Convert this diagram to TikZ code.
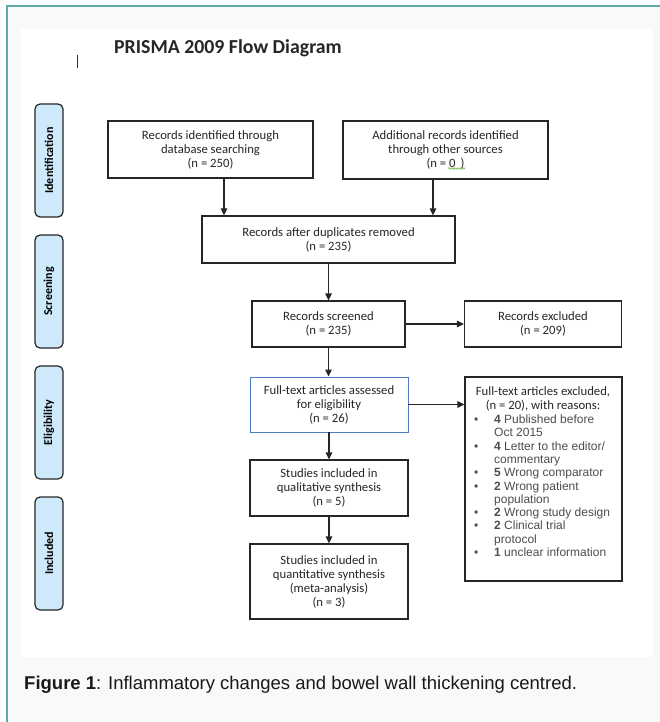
\documentclass[tikz,border=0pt]{standalone}
\usepackage{fontspec}
\setmainfont{Carlito}
\newfontfamily\arialf{Liberation Sans}
\usetikzlibrary{arrows.meta,decorations.pathmorphing}
\definecolor{teal1}{HTML}{5FAAAB}
\definecolor{sidefill}{HTML}{CDE9FA}
\definecolor{bluebord}{HTML}{4F7CC4}
\definecolor{bgout}{HTML}{F8FAFA}
\definecolor{txt}{HTML}{262626}
\definecolor{listtxt}{HTML}{4D4D4D}
\definecolor{squig}{HTML}{5DB030}
\newcommand{\bl}[2]{\makebox[20pt][l]{\textbullet}\textbf{#1} #2}
\newcommand{\cont}[1]{\hspace*{20pt}#1}
\begin{document}
\begin{tikzpicture}[x=1pt,y=-1pt,
 box/.style={draw=black!85,line width=1.2pt,fill=white,align=center,inner sep=0pt,text=txt,font=\fontsize{12.7}{14}\selectfont},
 side/.style={draw=black!85,line width=1.2pt,fill=sidefill,rounded corners=5pt,minimum width=113pt,minimum height=28pt,inner sep=0pt,rotate=90,font=\bfseries\fontsize{12}{12}\selectfont},
 arr/.style={-{Triangle[length=7pt,width=6.5pt]},line width=1.2pt,black!85}]
\useasboundingbox (0,0) rectangle (660,722);
% background
\fill[white] (0,0) rectangle (660,722);
\fill[bgout] (7,6) rectangle (660,722);
\fill[white] (21,29) rectangle (653,657);
\draw[teal1,line width=2pt] (7,722) -- (7,6) -- (660,6);
% title
\node[anchor=west,inner sep=0pt,font=\bfseries\fontsize{19.8}{20}\selectfont,text=txt] (title) at (114,48) {PRISMA 2009 Flow Diagram};
\coordinate (cur1) at (77,55);
\coordinate (cur2) at (77,68);
\draw[black!80,line width=0.9pt] (cur1) -- (cur2);
% side labels
\node[side] (sid) at (49,160.5) {Identification};
\node[side] (sscr) at (49,291.5) {Screening};
\node[side] (selig) at (49,422.5) {Eligibility};
\node[side] (sinc) at (49,553.5) {Included};
% boxes
\node[box,minimum width=205pt,minimum height=57pt] (b1) at (210.5,149.5) {Records identified through\\database searching\\(n = 250)};
\node[box,minimum width=205pt,minimum height=58pt] (b2) at (445.5,150) {Additional records identified\\through other sources\\(n = 0\ \,)};
\node[box,minimum width=253pt,minimum height=47pt] (b3) at (328.5,239.5) {Records after duplicates removed\\(n = 235)};
\node[box,minimum width=153pt,minimum height=46pt] (b4) at (328.5,324) {Records screened\\(n = 235)};
\node[box,minimum width=157pt,minimum height=46pt] (b5) at (543,324) {Records excluded\\(n = 209)};
\node[box,draw=bluebord,line width=0.9pt,minimum width=158pt,minimum height=55pt] (b6) at (329,404.5) {Full-text articles assessed\\for eligibility\\(n = 26)};
\node[box,minimum width=157pt,minimum height=204pt] (b7) at (543.5,479) {};
\node[box,minimum width=158pt,minimum height=56pt] (b8) at (329,488) {Studies included in\\qualitative synthesis\\(n = 5)};
\node[box,minimum width=158pt,minimum height=75pt] (b9) at (329,581.5) {Studies included in\\quantitative synthesis\\(meta-analysis)\\(n = 3)};
% excluded reasons text (base anchor = baseline of last line)
\node[anchor=base,align=center,inner sep=0pt,text=txt,font=\fontsize{12.7}{14}\selectfont] (b7h) at (543,409) {Full-text articles excluded,\\(n = 20), with reasons:};
\node[anchor=base west,align=left,inner sep=0pt,text=listtxt,font=\arialf\fontsize{12}{13.3}\selectfont] (b7l) at (474,556.5) {\bl{4}{Published before}\\\cont{Oct 2015}\\\bl{4}{Letter to the editor/}\\\cont{commentary}\\\bl{5}{Wrong comparator}\\\bl{2}{Wrong patient}\\\cont{population}\\\bl{2}{Wrong study design}\\\bl{2}{Clinical trial}\\\cont{protocol}\\\bl{1}{unclear information}};
% spell-check squiggle
\coordinate (sq1) at (448,168.5);
\coordinate (sq2) at (465,168.5);
\draw[squig,line width=0.6pt,decorate,decoration={snake,amplitude=0.8pt,segment length=3pt}] (sq1) -- (sq2);
% arrows
\coordinate (c1) at (224,0);
\coordinate (c2) at (433,0);
\draw[arr] (b1.south -| c1) -- (b3.north -| c1);
\draw[arr] (b2.south -| c2) -- (b3.north -| c2);
\draw[arr] (b3.south) -- (b4.north);
\draw[arr] (b4.east) -- (b5.west);
\draw[arr] (b4.south) -- (b4.south |- b6.north);
\draw[arr] (b6.east) -- (b6.east -| b7.west);
\draw[arr] (b6.south) -- (b8.north);
\draw[arr] (b8.south) -- (b9.north);
% caption
\node[anchor=base west,inner sep=0pt,font=\arialf\fontsize{18.5}{20}\selectfont,text=black!90] (cap) at (24,689) {\textbf{Figure 1}: Inflammatory changes and bowel wall thickening centred.};
\end{tikzpicture}
\end{document}
